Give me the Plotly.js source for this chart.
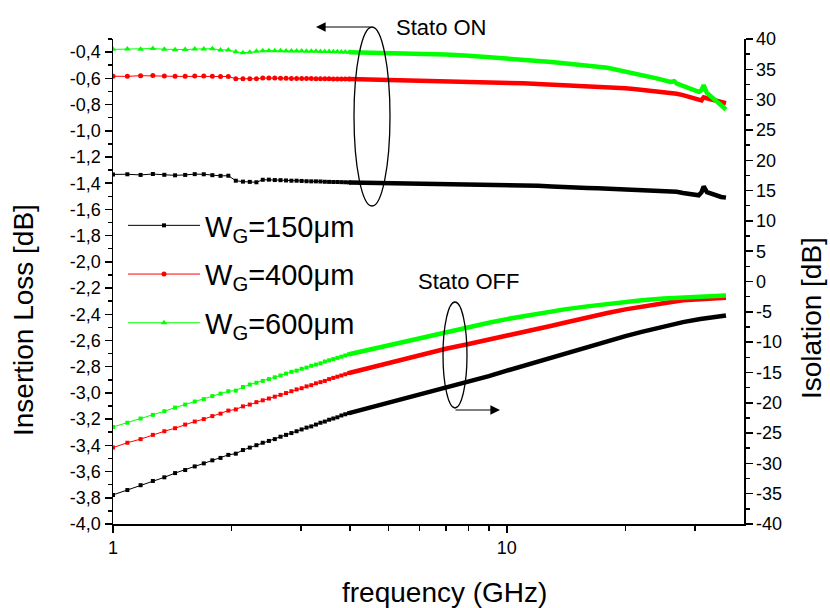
<!DOCTYPE html>
<html><head><meta charset="utf-8">
<script src="https://cdn.plot.ly/plotly-3.0.1.min.js"></script>
<style>html,body{margin:0;padding:0;background:#fff}</style>
</head><body>
<div id="chart" style="width:830px;height:608px"></div>
<script>
// ---- data ----
// low-frequency part (individual measurement points, GHz)
const FREQ_LO = [1.0, 1.0875, 1.175, 1.2625, 1.35, 1.4375, 1.525, 1.6125, 1.7, 1.7875, 1.875, 1.9625,
  2.05, 2.1375, 2.225, 2.3125, 2.4, 2.4875, 2.575, 2.6625, 2.75, 2.8375, 2.925, 3.0125, 3.1, 3.1875,
  3.275, 3.3625, 3.45, 3.5375, 3.625, 3.7125, 3.8, 3.8875, 3.975];

// Stato ON - insertion loss (left axis, dB)
const ON_150_LO = [-1.333, -1.332, -1.337, -1.330, -1.336, -1.340, -1.337, -1.331, -1.332, -1.339, -1.344, -1.343,
  -1.381, -1.388, -1.390, -1.393, -1.374, -1.373, -1.376, -1.377, -1.379, -1.381, -1.381, -1.383, -1.385, -1.386,
  -1.386, -1.387, -1.389, -1.390, -1.391, -1.391, -1.392, -1.393, -1.394];
const ON_400_LO = [-0.584, -0.585, -0.580, -0.579, -0.583, -0.585, -0.585, -0.583, -0.582, -0.585, -0.587, -0.586,
  -0.603, -0.604, -0.604, -0.603, -0.598, -0.598, -0.598, -0.600, -0.600, -0.601, -0.601, -0.601, -0.602, -0.602,
  -0.603, -0.603, -0.604, -0.604, -0.605, -0.605, -0.605, -0.606, -0.606];
const ON_600_LO = [-0.379, -0.377, -0.378, -0.373, -0.378, -0.382, -0.381, -0.377, -0.377, -0.374, -0.383, -0.383,
  -0.398, -0.404, -0.402, -0.394, -0.389, -0.389, -0.389, -0.390, -0.391, -0.391, -0.391, -0.392, -0.393, -0.393,
  -0.394, -0.395, -0.396, -0.396, -0.397, -0.398, -0.399, -0.400, -0.401];

// Stato OFF - isolation (right axis, dB)
const OFF_150_LO = [-35.2, -34.4, -33.6, -32.9, -32.3, -31.6, -31.1, -30.5, -30.0, -29.5, -29.1, -28.6,
  -28.4, -27.8, -27.4, -27.0, -26.6, -26.3, -26.0, -25.6, -25.3, -25.0, -24.7, -24.4, -24.1, -23.9,
  -23.6, -23.3, -23.1, -22.8, -22.6, -22.4, -22.1, -21.9, -21.7];
const OFF_400_LO = [-27.4, -26.6, -26.0, -25.3, -24.7, -24.2, -23.6, -23.1, -22.7, -22.2, -21.8, -21.3,
  -21.1, -20.6, -20.3, -19.9, -19.6, -19.3, -19.0, -18.7, -18.4, -18.1, -17.8, -17.6, -17.3, -17.1,
  -16.8, -16.6, -16.4, -16.1, -15.9, -15.7, -15.5, -15.3, -15.1];
const OFF_600_LO = [-24.0, -23.3, -22.6, -22.0, -21.4, -20.8, -20.3, -19.8, -19.4, -18.9, -18.5, -18.1,
  -18.0, -17.4, -17.0, -16.7, -16.4, -16.1, -15.8, -15.5, -15.2, -14.9, -14.7, -14.4, -14.2, -13.9,
  -13.7, -13.5, -13.2, -13.0, -12.8, -12.6, -12.4, -12.2, -12.0];

// high-frequency part (dense measurement, drawn as a band)
const FREQ_ON_HI = [3.975, 4.5, 5, 5.5, 6, 7, 8, 9, 10, 11, 12, 13, 14, 15, 16, 17, 18, 19, 20, 21, 22, 23, 24, 25,
  26, 26.6, 27, 28, 29, 30, 30.7, 31.2, 31.6, 32.2, 33, 34, 35, 36];
const ON_150_HI = [-1.394, -1.397, -1.400, -1.401, -1.402, -1.404, -1.405, -1.408, -1.410, -1.414, -1.420, -1.426,
  -1.432, -1.434, -1.436, -1.438, -1.441, -1.444, -1.447, -1.449, -1.452, -1.455, -1.458, -1.460,
  -1.463, -1.458, -1.466, -1.475, -1.480, -1.488, -1.492, -1.470, -1.425, -1.468, -1.480, -1.492, -1.505, -1.510];
const ON_400_HI = [-0.606, -0.609, -0.612, -0.615, -0.617, -0.621, -0.625, -0.629, -0.634, -0.638, -0.643, -0.647,
  -0.651, -0.654, -0.657, -0.660, -0.664, -0.670, -0.676, -0.682, -0.688, -0.694, -0.700, -0.706,
  -0.712, -0.714, -0.718, -0.728, -0.738, -0.750, -0.762, -0.768, -0.745, -0.752, -0.760, -0.768, -0.776, -0.790];
const ON_600_HI = [-0.401, -0.403, -0.406, -0.408, -0.411, -0.418, -0.428, -0.437, -0.447, -0.457, -0.467, -0.476,
  -0.484, -0.493, -0.502, -0.511, -0.520, -0.534, -0.548, -0.560, -0.572, -0.586, -0.600, -0.614,
  -0.628, -0.622, -0.640, -0.657, -0.675, -0.690, -0.703, -0.690, -0.652, -0.712, -0.738, -0.770, -0.805, -0.838];

const FREQ_OFF_HI = [3.975, 4.5, 5, 5.5, 6, 7, 8, 9, 10, 11, 12, 13, 14, 16, 18, 20, 22, 25, 28, 31, 34, 36];
const OFF_150_HI = [-21.7, -20.8, -20.0, -19.3, -18.7, -17.5, -16.5, -15.6, -14.7, -13.9, -13.2, -12.6, -12.0, -10.9, -9.9, -9.0, -8.3, -7.4, -6.7, -6.2, -5.8, -5.6];
const OFF_400_HI = [-15.1, -14.2, -13.5, -12.8, -12.2, -11.1, -10.3, -9.6, -9.0, -8.4, -7.8, -7.3, -6.8, -5.9, -5.2, -4.6, -4.1, -3.6, -3.1, -2.9, -2.75, -2.7];
const OFF_600_HI = [-12.0, -11.2, -10.5, -9.9, -9.3, -8.3, -7.5, -6.8, -6.2, -5.7, -5.3, -4.9, -4.6, -4.1, -3.7, -3.4, -3.1, -2.8, -2.6, -2.45, -2.35, -2.3];

const NAMES = ['W<sub>G</sub>=150μm', 'W<sub>G</sub>=400μm', 'W<sub>G</sub>=600μm'];

// axis ticks
const X_TICKS = [1, 10];
const X_MINOR = [2, 3, 4, 5, 6, 7, 8, 9, 20, 30];
const IL_TICKS = [-4.0, -3.8, -3.6, -3.4, -3.2, -3.0, -2.8, -2.6, -2.4, -2.2, -2.0, -1.8, -1.6, -1.4, -1.2, -1.0, -0.8, -0.6, -0.4];
const IL_MINOR = [-3.9, -3.7, -3.5, -3.3, -3.1, -2.9, -2.7, -2.5, -2.3, -2.1, -1.9, -1.7, -1.5, -1.3, -1.1, -0.9, -0.7, -0.5, -0.3];
const ISO_TICKS = [-40, -35, -30, -25, -20, -15, -10, -5, 0, 5, 10, 15, 20, 25, 30, 35, 40];
const ISO_MINOR = [-37.5, -32.5, -27.5, -22.5, -17.5, -12.5, -7.5, -2.5, 2.5, 7.5, 12.5, 17.5, 22.5, 27.5, 32.5, 37.5];

// ---- chart ----
const FONT = 'Liberation Sans, Arial, Helvetica, sans-serif';
const COL = ['#000000', '#ff0000', '#00ff00'];
const ON_SYM = ['square', 'circle', 'triangle-up'];
const ON_SIZE = [4, 5, 6];
const ON_LO = [ON_150_LO, ON_400_LO, ON_600_LO];
const ON_HI = [ON_150_HI, ON_400_HI, ON_600_HI];
const OFF_LO = [OFF_150_LO, OFF_400_LO, OFF_600_LO];
const OFF_HI = [OFF_150_HI, OFF_400_HI, OFF_600_HI];

const traces = [];
for (let i = 0; i < 3; i++) {
  traces.push({x: FREQ_LO, y: ON_LO[i], name: NAMES[i], legendgroup: 'g' + i, mode: 'lines+markers',
    line: {color: COL[i], width: 1}, marker: {symbol: ON_SYM[i], size: ON_SIZE[i], color: COL[i]},
    xaxis: 'x', yaxis: 'y', showlegend: true});
  traces.push({x: FREQ_ON_HI, y: ON_HI[i], legendgroup: 'g' + i, mode: 'lines',
    line: {color: COL[i], width: 4.5}, xaxis: 'x', yaxis: 'y', showlegend: false});
}
for (let i = 0; i < 3; i++) {
  traces.push({x: FREQ_LO, y: OFF_LO[i], legendgroup: 'g' + i, mode: 'lines+markers',
    line: {color: COL[i], width: 1}, marker: {symbol: 'square', size: 4, color: COL[i]},
    xaxis: 'x', yaxis: 'y2', showlegend: false});
  traces.push({x: FREQ_OFF_HI, y: OFF_HI[i], legendgroup: 'g' + i, mode: 'lines',
    line: {color: COL[i], width: 4.5}, xaxis: 'x', yaxis: 'y2', showlegend: false});
}

const L = 113, R = 744, T = 39, B = 524;
const px = v => (v - L) / (R - L);
const py = v => (B - v) / (B - T);

const layout = {
  width: 830, height: 608,
  margin: {l: L, r: 830 - R, t: T, b: 608 - B, pad: 0},
  paper_bgcolor: '#ffffff', plot_bgcolor: '#ffffff',
  font: {family: FONT, color: '#000000', size: 18},
  showlegend: true,
  legend: {x: px(123), y: py(200), xanchor: 'left', yanchor: 'top', bgcolor: 'rgba(0,0,0,0)',
    font: {family: FONT, size: 29, color: '#000'}, itemwidth: 72, tracegroupgap: 8, traceorder: 'grouped'},
  xaxis: {type: 'log', range: [0, Math.log10(40)], showgrid: false, zeroline: false,
    showline: true, linecolor: '#000', linewidth: 1.5, ticks: 'outside', ticklen: 7, tickwidth: 1.5, tickcolor: '#000',
    tickmode: 'array', tickvals: X_TICKS, ticktext: X_TICKS.map(String), tickfont: {size: 18},
    minor: {tickmode: 'array', tickvals: X_MINOR, ticks: 'outside', ticklen: 5, tickwidth: 1.5, tickcolor: '#000', showgrid: false}},
  yaxis: {range: [-4.0, -0.3], showgrid: false, zeroline: false,
    showline: true, linecolor: '#000', linewidth: 1.5, ticks: 'outside', ticklen: 7, tickwidth: 1.5, tickcolor: '#000',
    tickmode: 'array', tickvals: IL_TICKS, ticktext: IL_TICKS.map(v => v.toFixed(1).replace('.', ',')), tickfont: {size: 18},
    minor: {tickmode: 'array', tickvals: IL_MINOR, ticks: 'outside', ticklen: 4, tickwidth: 1.5, tickcolor: '#000', showgrid: false}},
  yaxis2: {range: [-40, 40], overlaying: 'y', side: 'right', showgrid: false, zeroline: false,
    showline: true, linecolor: '#000', linewidth: 1.5, ticks: 'outside', ticklen: 7, tickwidth: 1.5, tickcolor: '#000',
    tickmode: 'array', tickvals: ISO_TICKS, ticktext: ISO_TICKS.map(String), tickfont: {size: 18},
    minor: {tickmode: 'array', tickvals: ISO_MINOR, ticks: 'outside', ticklen: 4, tickwidth: 1.5, tickcolor: '#000', showgrid: false}},
  shapes: [
    {type: 'circle', xref: 'paper', yref: 'paper', x0: px(354), x1: px(390), y0: py(206), y1: py(27), line: {color: '#000', width: 1.3}},
    {type: 'circle', xref: 'paper', yref: 'paper', x0: px(443), x1: px(467), y0: py(408), y1: py(302), line: {color: '#000', width: 1.3}}
  ],
  annotations: [
    {text: 'Insertion Loss [dB]', xref: 'paper', yref: 'paper', x: px(24), y: py(320), textangle: -90, showarrow: false,
      xanchor: 'center', yanchor: 'middle', font: {size: 28}},
    {text: 'Isolation [dB]', xref: 'paper', yref: 'paper', x: px(811), y: py(318), textangle: -90, showarrow: false,
      xanchor: 'center', yanchor: 'middle', font: {size: 28}},
    {text: 'frequency (GHz)', xref: 'paper', yref: 'paper', x: px(444), y: py(592), showarrow: false,
      xanchor: 'center', yanchor: 'middle', font: {size: 28}},
    {text: 'Stato ON', xref: 'paper', yref: 'paper', x: px(394), y: py(27), showarrow: false,
      xanchor: 'left', yanchor: 'middle', font: {size: 22}},
    {text: 'Stato OFF', xref: 'paper', yref: 'paper', x: px(416), y: py(281), showarrow: false,
      xanchor: 'left', yanchor: 'middle', font: {size: 22}},
    {text: '', xref: 'paper', yref: 'paper', x: px(316), y: py(27), ax: 56, ay: 0, showarrow: true,
      arrowhead: 2, arrowsize: 1.6, arrowwidth: 1.2, arrowcolor: '#000'},
    {text: '', xref: 'paper', yref: 'paper', x: px(500), y: py(410), ax: -46, ay: 0, showarrow: true,
      arrowhead: 2, arrowsize: 1.6, arrowwidth: 1.2, arrowcolor: '#000'}
  ]
};

Plotly.newPlot('chart', traces, layout, {displayModeBar: false, staticPlot: true});
</script>
</body></html>
